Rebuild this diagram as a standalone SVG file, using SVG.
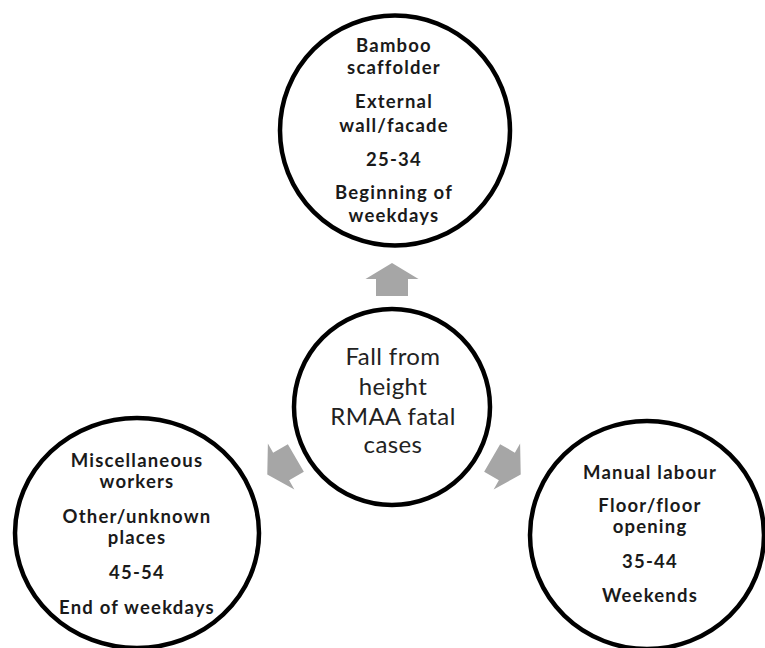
<svg xmlns="http://www.w3.org/2000/svg" width="765" height="648" viewBox="0 0 765 648">
  <defs>
    <style>
      .ring { fill: #ffffff; stroke: #000000; stroke-width: 4.5; }
      .lbl { font-family: Lato, "Liberation Sans", sans-serif; font-weight: 700; font-size: 18.5px; letter-spacing: 1.2px; fill: #1a1a1a; text-anchor: middle; }
      .hub { font-family: Lato, "Liberation Sans", sans-serif; font-weight: 400; font-size: 24px; letter-spacing: 0.4px; fill: #222222; text-anchor: middle; }
      .arrow { fill: #a6a6a6; }
    </style>
    <!-- block arrow pointing up, centred on its own origin -->
    <polygon id="blockArrow" points="0,-17 26.5,-1 16,-1 16,16 -16,16 -16,-1 -26.5,-1"/>
  </defs>
  <rect width="765" height="648" fill="#ffffff"/>

  <g id="connectors">
    <use href="#blockArrow" class="arrow" transform="translate(392,280)"/>
    <use href="#blockArrow" class="arrow" transform="translate(282,466) rotate(-120)"/>
    <use href="#blockArrow" class="arrow" transform="translate(506,466) rotate(120)"/>
  </g>

  <g id="node-top">
    <ellipse class="ring" cx="395" cy="130.5" rx="115" ry="115"/>
    <text class="lbl" x="394" y="52">Bamboo</text>
    <text class="lbl" x="394" y="74">scaffolder</text>
    <text class="lbl" x="394" y="108">External</text>
    <text class="lbl" x="394" y="132">wall/facade</text>
    <text class="lbl" x="394" y="166">25-34</text>
    <text class="lbl" x="394" y="199">Beginning of</text>
    <text class="lbl" x="394" y="222">weekdays</text>
  </g>

  <g id="node-centre">
    <ellipse class="ring" cx="392" cy="407" rx="98" ry="98"/>
    <text class="hub" x="393" y="365">Fall from</text>
    <text class="hub" x="393" y="395">height</text>
    <text class="hub" x="393" y="425">RMAA fatal</text>
    <text class="hub" x="393" y="453">cases</text>
  </g>

  <g id="node-left">
    <ellipse class="ring" cx="137" cy="533" rx="122" ry="115"/>
    <text class="lbl" x="137" y="467">Miscellaneous</text>
    <text class="lbl" x="137" y="488">workers</text>
    <text class="lbl" x="137" y="523">Other/unknown</text>
    <text class="lbl" x="137" y="544">places</text>
    <text class="lbl" x="137" y="579">45-54</text>
    <text class="lbl" x="137" y="614">End of weekdays</text>
  </g>

  <g id="node-right">
    <ellipse class="ring" cx="647" cy="535" rx="117" ry="114"/>
    <text class="lbl" x="650" y="479">Manual labour</text>
    <text class="lbl" x="650" y="512">Floor/floor</text>
    <text class="lbl" x="650" y="533">opening</text>
    <text class="lbl" x="650" y="568">35-44</text>
    <text class="lbl" x="650" y="602">Weekends</text>
  </g>
</svg>
